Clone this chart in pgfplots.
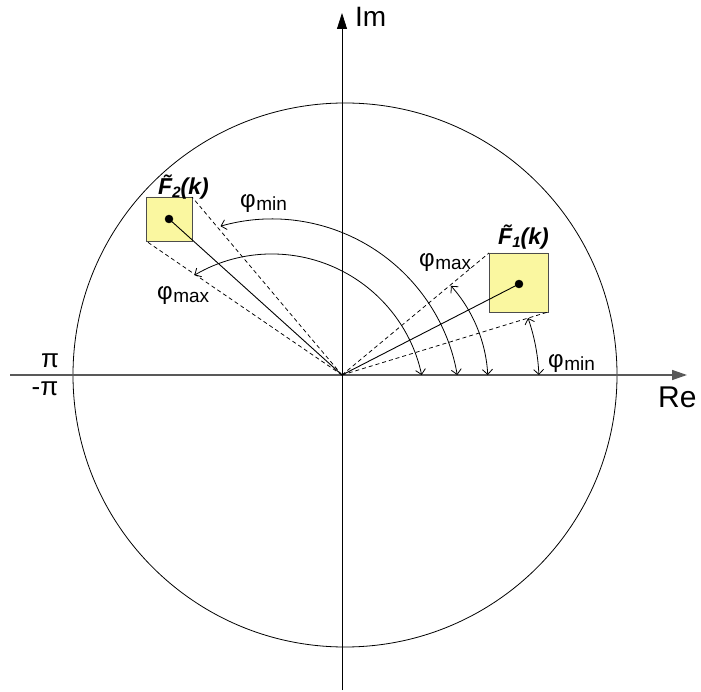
\documentclass[border=0pt]{standalone}
\usepackage{pgfplots}
\pgfplotsset{compat=1.18}
\usetikzlibrary{arrows.meta}
\usepackage{fontspec}
\setmainfont{Liberation Sans}
\definecolor{boxfill}{RGB}{250,247,160}
\newcommand{\phil}[1]{{\fontsize{24}{24}\selectfont φ\kern0.5pt\raisebox{-3pt}{\fontsize{19}{19}\selectfont #1}}}
\newcommand{\Flab}[1]{{\fontsize{23}{23}\selectfont\bfseries\itshape \~{F}\raisebox{-3pt}{\fontsize{15}{15}\selectfont #1}(k)}}
\tikzset{barb/.style={{Straight Barb[length=5pt,width=10pt]}-{Straight Barb[length=5pt,width=10pt]}}}
\begin{document}
\begin{tikzpicture}
\begin{axis}[x=1pt,y=1pt,xmin=-342,xmax=359,ymin=-316,ymax=375,hide axis,clip=false,anchor=south west,at={(0,0)}]
% circle
\draw[black, line width=0.8pt] (axis cs:3,0) circle[radius=272pt];
% axes
\addplot[black!65, line width=1.4pt, -{Triangle[length=15pt,width=10pt]}] coordinates {(-332,0) (345,0)};
\addplot[black, line width=0.8pt, -{Triangle[length=16pt,width=10pt]}] coordinates {(0,-315) (0,362)};
% boxes
\addplot[fill=boxfill, draw=black!70, line width=0.8pt] coordinates {(147,63) (206,63) (206,122) (147,122) (147,63)};
\addplot[fill=boxfill, draw=black!70, line width=0.8pt] coordinates {(-196,134) (-150,134) (-150,178) (-196,178) (-196,134)};
% dashed lines
\addplot[black, line width=0.75pt, dash pattern=on 4pt off 3pt] coordinates {(0,0) (147,122)};
\addplot[black, line width=0.75pt, dash pattern=on 4pt off 3pt] coordinates {(0,0) (206,63)};
\addplot[black, line width=0.75pt, dash pattern=on 4pt off 3pt] coordinates {(0,0) (-150,178)};
\addplot[black, line width=0.75pt, dash pattern=on 4pt off 3pt] coordinates {(0,0) (-196,134)};
% solid lines
\addplot[black, line width=0.9pt] coordinates {(0,0) (177,91)};
\addplot[black, line width=0.9pt] coordinates {(0,0) (-173,156)};
% dots
\addplot[only marks, mark=*, mark size=4pt, black] coordinates {(177,91) (-173,156)};
% arcs
\draw[barb, line width=0.8pt] (axis cs:-121.5,148.8) arc[start angle=105.9, end angle=9.8, radius=188pt];
\draw[barb, line width=0.8pt] (axis cs:-147.6,99.8) arc[start angle=120.5, end angle=12.07, radius=153pt];
\draw[barb, line width=0.8pt] (axis cs:109,89.1) arc[start angle=41.7, end angle=3.14, radius=146pt];
\draw[barb, line width=0.8pt] (axis cs:186,57) arc[start angle=19.26, end angle=2.33, radius=197pt];
% labels
\node[anchor=base west, inner sep=0pt, font=\fontsize{28}{28}\selectfont] at (axis cs:13,348) {Im};
\node[anchor=base west, inner sep=0pt, font=\fontsize{30}{30}\selectfont] at (axis cs:316,-33) {Re};
\node[anchor=base, inner sep=0pt, font=\fontsize{26}{26}\selectfont] at (axis cs:-292,7) {π};
\node[anchor=base, inner sep=0pt, font=\fontsize{26}{26}\selectfont] at (axis cs:-297,-21) {-π};
\node[anchor=base west, inner sep=0pt] at (axis cs:-102,167) {\phil{min}};
\node[anchor=base west, inner sep=0pt] at (axis cs:-185,75) {\phil{max}};
\node[anchor=base west, inner sep=0pt] at (axis cs:77,108) {\phil{max}};
\node[anchor=base west, inner sep=0pt] at (axis cs:206,7) {\phil{min}};
\node[anchor=base west, inner sep=0pt] at (axis cs:156,130) {\Flab{1}};
\node[anchor=base west, inner sep=0pt] at (axis cs:-184,180) {\Flab{2}};
\end{axis}
\pgfresetboundingbox
\path (current axis.south west) rectangle (current axis.north east);
\end{tikzpicture}
\end{document}
